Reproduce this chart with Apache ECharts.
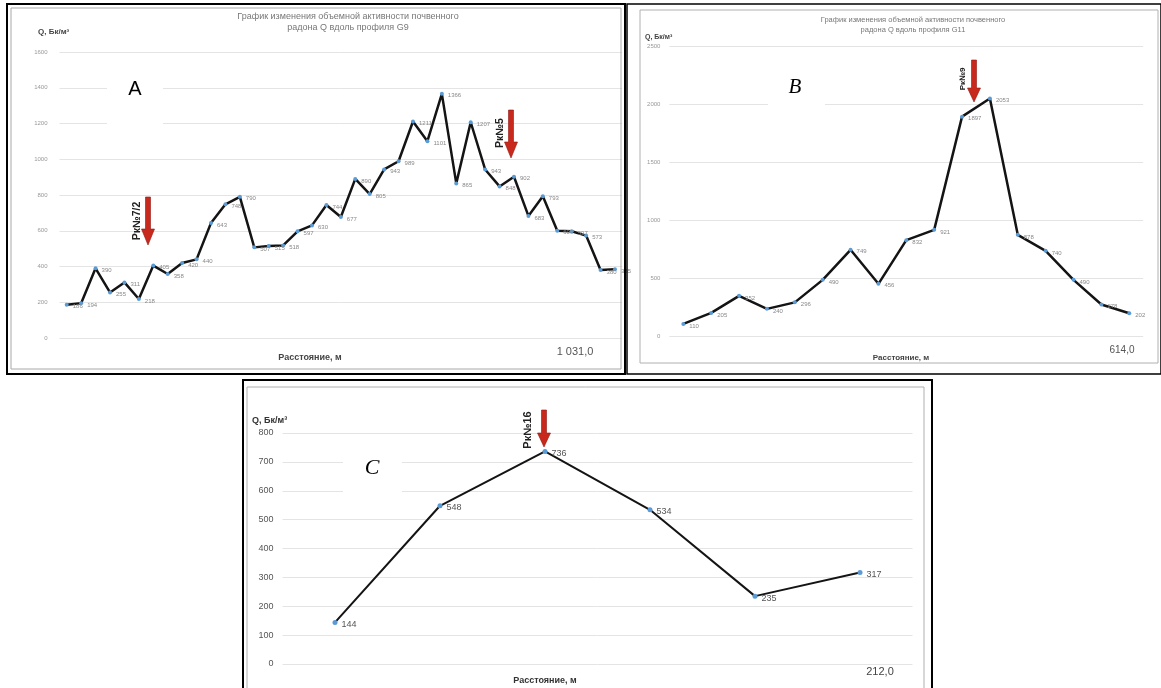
<!DOCTYPE html>
<html>
<head>
<meta charset="utf-8">
<script src="https://cdn.jsdelivr.net/npm/echarts@6/dist/echarts.min.js"></script>
<style>
html, body { margin: 0; padding: 0; background: #fff; }
#chart { width: 1161px; height: 688px; }
</style>
</head>
<body>
<div id="chart"></div>
<script>
// профиль G9 (A)
var valuesA = [186, 194, 390, 255, 311, 218, 405, 358, 420, 440, 643, 748, 790, 507, 515, 518, 597, 630, 744, 677,
               890, 805, 943, 989, 1211, 1101, 1366, 865, 1207, 943, 848, 902, 683, 793, 600, 597, 573, 380, 385];
var ticksA = [0, 200, 400, 600, 800, 1000, 1200, 1400, 1600];

// профиль G11 (B)
var valuesB = [110, 205, 352, 240, 296, 490, 749, 456, 832, 921, 1897, 2053, 878, 740, 490, 278, 202];
var ticksB = [0, 500, 1000, 1500, 2000, 2500];

// профиль (C)
var valuesC = [144, 548, 736, 534, 235, 317];
var ticksC = [0, 100, 200, 300, 400, 500, 600, 700, 800];

var FONT = 'Liberation Sans, Arial, sans-serif';

function cats(vals) {
    return vals.map(function(v, i) { return String(i + 1); });
}

function yAxisFor(idx, ticks, fontSize, color, margin) {
    return {
        gridIndex: idx,
        type: 'value',
        min: ticks[0],
        max: ticks[ticks.length - 1],
        interval: ticks[1] - ticks[0],
        axisLine: { show: false },
        axisTick: { show: false },
        axisLabel: { fontSize: fontSize, color: color, fontFamily: FONT, margin: margin,
                     formatter: function(v) { return String(v); } },
        splitLine: { lineStyle: { color: '#e4e4e4', width: 1 } }
    };
}

function xAxisFor(idx, vals) {
    return {
        gridIndex: idx,
        type: 'category',
        data: cats(vals),
        boundaryGap: true,
        axisLine: { show: false },
        axisTick: { show: false },
        axisLabel: { show: false },
        splitLine: { show: false }
    };
}

function lineFor(idx, vals, width, symSize, labSize, labColor) {
    return {
        type: 'line',
        xAxisIndex: idx,
        yAxisIndex: idx,
        data: vals,
        symbol: 'circle',
        symbolSize: symSize,
        showAllSymbol: true,
        lineStyle: { color: '#141414', width: width },
        itemStyle: { color: '#5b9bd5', borderWidth: 0 },
        label: { show: true, position: 'right', distance: 4, offset: [0, 2],
                 fontSize: labSize, color: labColor, fontFamily: FONT },
        z: 3
    };
}

// стрелка вниз
function arrow(x, y1, y2, head) {
    return {
        type: 'polygon', z: 100,
        shape: { points: [[x - 2.5, y1], [x + 2.5, y1], [x + 2.5, y2 - head], [x + 6.5, y2 - head],
                          [x, y2], [x - 6.5, y2 - head], [x - 2.5, y2 - head]] },
        style: { fill: '#c9281d', stroke: '#8e1a12', lineWidth: 0.6 }
    };
}

function txt(x, y, s, size, opts) {
    opts = opts || {};
    return {
        type: 'text', z: 101, x: x, y: y, rotation: opts.rot || 0,
        style: { text: s, fontSize: size, fontFamily: opts.family || FONT, fontWeight: opts.weight || 'normal',
                 fontStyle: opts.style || 'normal', fill: opts.color || '#444',
                 align: opts.align || 'center', verticalAlign: 'middle', lineHeight: opts.lh || size + 2 }
    };
}

function box(x, y, w, h, stroke, lw) {
    return { type: 'rect', z: 99, shape: { x: x, y: y, width: w, height: h },
             style: { fill: 'none', stroke: stroke, lineWidth: lw } };
}

function whiteBox(x, y, w, h) {
    return { type: 'rect', z: 99, shape: { x: x, y: y, width: w, height: h }, style: { fill: '#fff' } };
}

var chart = echarts.init(document.getElementById('chart'));

var option = {
    animation: false,
    backgroundColor: '#fff',
    grid: [
        { left: 59.5, top: 52, width: 562.7, height: 286 },
        { left: 669.4, top: 46.7, width: 473.8, height: 290 },
        { left: 282.5, top: 433, width: 630, height: 231 }
    ],
    xAxis: [xAxisFor(0, valuesA), xAxisFor(1, valuesB), xAxisFor(2, valuesC)],
    yAxis: [
        yAxisFor(0, ticksA, 6, '#999', 12),
        yAxisFor(1, ticksB, 6, '#999', 9),
        yAxisFor(2, ticksC, 9, '#555', 9)
    ],
    series: [
        lineFor(0, valuesA, 2.5, 4, 6, '#888'),
        lineFor(1, valuesB, 2.5, 4, 6, '#888'),
        lineFor(2, valuesC, 2, 5, 9, '#555')
    ],
    graphic: [
        // рамки
        box(7, 4, 618, 370, '#000', 2),
        box(11, 8, 610, 361, '#a8a8a8', 1),
        box(627, 4, 534, 370, '#000', 1.5),
        box(640, 10, 518, 353, '#b0b0b0', 1),
        box(243, 380, 689, 310, '#000', 2),
        box(247, 387, 677, 305, '#b0b0b0', 1),

        // A
        txt(348, 22, 'График изменения объемной активности почвенного\nрадона Q вдоль профиля G9', 9, { color: '#777', lh: 11 }),
        txt(38, 32, 'Q, Бк/м³', 8, { weight: 'bold', align: 'left', color: '#444' }),
        txt(310, 358, 'Расстояние, м', 9, { weight: 'bold', color: '#444' }),
        txt(575, 352, '1 031,0', 11, { color: '#555' }),
        whiteBox(107, 58, 56, 67),
        txt(135, 89, 'A', 20, { color: '#000' }),
        arrow(148, 197, 245, 16),
        txt(137, 221, 'Рк№7/2', 10.5, { weight: 'bold', color: '#222', rot: Math.PI / 2 }),
        arrow(511, 110, 158, 16),
        txt(500, 133, 'Рк№5', 10.5, { weight: 'bold', color: '#222', rot: Math.PI / 2 }),

        // B
        txt(913, 25, 'График изменения объемной активности почвенного\nрадона Q вдоль профиля G11', 7.5, { color: '#777', lh: 10 }),
        txt(645, 37, 'Q, Бк/м³', 7, { weight: 'bold', align: 'left', color: '#444' }),
        txt(901, 358, 'Расстояние, м', 8, { weight: 'bold', color: '#444' }),
        txt(1122, 350, '614,0', 10, { color: '#555' }),
        whiteBox(768, 58, 57, 70),
        txt(795, 87, 'B', 21, { color: '#000', style: 'italic', family: 'Liberation Serif, DejaVu Serif, serif' }),
        arrow(974, 60, 102, 14),
        txt(963, 79, 'Рк№9', 8, { weight: 'bold', color: '#222', rot: Math.PI / 2 }),

        // C
        txt(252, 421, 'Q, Бк/м³', 9, { weight: 'bold', align: 'left', color: '#333' }),
        txt(545, 681, 'Расстояние, м', 9, { weight: 'bold', color: '#333' }),
        txt(880, 672, '212,0', 11, { color: '#444' }),
        whiteBox(343, 443, 59, 63),
        txt(372, 468, 'C', 22, { color: '#000', style: 'italic', family: 'Liberation Serif, DejaVu Serif, serif' }),
        arrow(544, 410, 447, 14),
        txt(528, 430, 'Рк№16', 11, { weight: 'bold', color: '#222', rot: Math.PI / 2 })
    ]
};

chart.setOption(option);
</script>
</body>
</html>
